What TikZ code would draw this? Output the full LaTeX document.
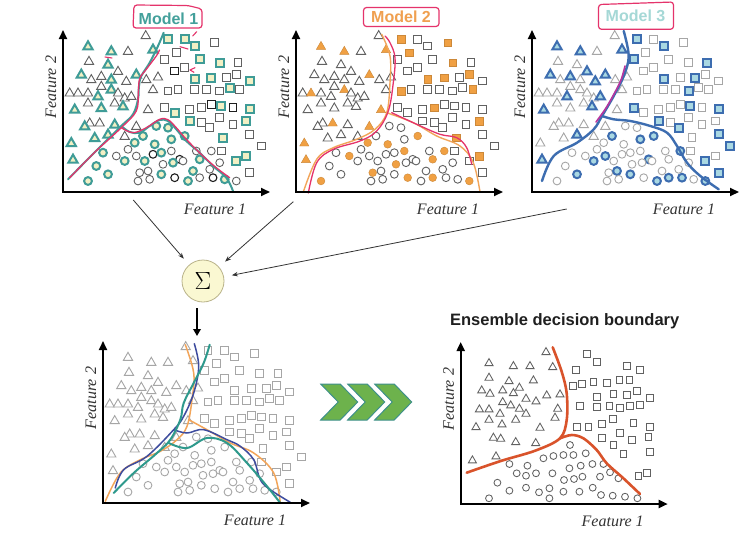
\documentclass[tikz,border=0pt]{standalone}
\usepackage{fontspec}
\setmainfont{Liberation Serif}
\newfontfamily\lsans{Liberation Sans}
\usetikzlibrary{arrows.meta}
\definecolor{tealA}{HTML}{3F9C97}
\definecolor{paleY}{HTML}{F2F0C4}
\definecolor{orngB}{HTML}{F0A043}
\definecolor{bluC}{HTML}{3D6DB0}
\definecolor{paleC}{HTML}{A9D8E2}
\definecolor{pinkH}{HTML}{E5336B}
\definecolor{magC}{HTML}{B8359E}
\definecolor{redE}{HTML}{D9532B}
\definecolor{navyL}{HTML}{3E4C9E}
\definecolor{tealL}{HTML}{2E998C}
\definecolor{orngL}{HTML}{F2A55A}
\definecolor{grnF}{HTML}{6DB24C}
\definecolor{grnE}{HTML}{3E908A}
\definecolor{sigF}{HTML}{FAF8D2}
\definecolor{sigE}{HTML}{B9B38A}
\definecolor{mthree}{HTML}{A5D8D6}
\definecolor{mtwo}{HTML}{F0A050}
\definecolor{mone}{HTML}{43A09B}

\def\TRIS{82.7/156.7/0/0/0, 25/146/1/1/1, 48.3/141/1/1/1, 65/141/0/0/0, 90/142.7/1/1/1,
26/131/0/0/0, 45/127.7/1/0/0, 55/121/0/0/1, 73.3/117.7/1/1/1, 18.3/117.7/1/0/1,
28.3/112.7/0/0/0, 38.3/116/0/0/1, 48.3/112.7/1/0/0, 63.3/111/0/0/1, 83.3/112.7/0/0/0,
95/115.3/0/0/0, 38.3/106/0/0/0, 48.3/102.7/1/1/0, 6.7/99.3/0/0/0, 15/99.3/0/1/0,
25/99.3/0/0/0, 35/96/1/0/1, 55/99.3/0/0/0, 61.7/94.3/0/0/0, 68.3/96/0/0/1,
90/102.7/0/0/0, 25/89.3/0/0/0, 38.3/84.3/1/0/0, 51.7/89.3/0/0/0, 60/86/1/0/1,
11.7/82.7/1/0/1, 85/82.7/0/1/0, 26.7/69.3/0/0/0, 36.7/69.3/0/1/0, 21.7/66/1/0/0,
51.7/67.7/1/0/0, 73.3/66/0/1/0, 45/57.7/1/0/1, 61.7/56/0/0/0, 31.7/54.3/1/0/0,
8.3/49.3/1/1/0, 10/32.7/1/1/1}
\def\SQS{105/152.7/1/1/1, 121.7/152.7/1/0/0, 131.7/146/1/0/1, 151.7/149.3/0/1/0,
113.3/139.3/0/1/0, 101.7/132.7/0/0/1, 136.7/132.7/1/0/0, 156.7/129.3/1/1/0,
175/129.3/0/0/1, 111.7/121/2/0/0, 121.7/124.3/0/0/0, 131.7/112.7/1/1/1,
148.3/114.3/1/1/0, 163.3/114.3/0/0/1, 173.3/117.7/0/1/0, 186.7/111/1/0/0,
115/102.7/0/0/0, 105/101/0/1/0, 131.7/102.7/0/0/0, 143.3/102.7/0/0/0,
156.7/101/0/0/1, 166.7/104.3/1/0/0, 176.7/102.7/0/1/0, 101.7/84.3/0/0/1,
111.7/79.3/1/0/0, 126.7/82.7/0/0/0, 138.3/84.3/0/1/0, 148.3/87.7/2/0/0,
158.3/86/1/0/1, 170/84.3/2/0/0, 186.7/82.7/1/0/1, 126.7/71/1/0/1,
138.3/69.3/0/0/0, 156.7/74.3/0/0/0, 170/67.7/0/0/0, 183.3/71/1/1/0,
146.7/64.3/0/0/1, 186.7/57.7/0/0/1, 160/54.3/1/1/0, 158.3/41/0/0/0,
198.3/46/0/0/1, 183.3/36/1/1/0, 173.3/31/1/0/1, 186.7/19.3/0/0/1}
\def\CIRS{93.3/66/1/0/0, 105/64.3/1/0/0, 80/56/1/0/1, 71.7/49.3/1/1/0, 91.7/47.7/1/1/0,
108.3/52.7/1/0/1, 121.7/56/1/1/1, 65/42.7/0/0/0, 40/39.3/1/0/0, 53.3/36/0/1/0,
61.7/31/1/0/1, 73.3/36/0/0/1, 81.7/31/1/0/0, 90/37.7/2/0/0, 98.3/39.3/1/0/0,
108.3/41/0/1/0, 116.7/32.7/2/0/1, 133.3/41/0/0/0, 148.3/41/0/1/1, 33.3/26/1/0/0,
25/11/1/1/0, 45/17.7/1/0/1, 76.7/19.3/0/1/0, 85/21/0/0/1, 100/27.7/0/1/0,
110/29.3/1/0/0, 120/31/0/0/0, 136.7/32.7/1/1/0, 146.7/22.7/0/0/0, 156.7/29.3/0/0/0,
75/11/0/0/0, 86.7/12.7/0/0/0, 98.3/17.7/1/0/1, 111.7/14.3/2/1/0, 125/11/1/0/1,
130/21/1/0/0, 136.7/14.3/0/1/1, 150/14.3/2/0/1, 161.7/12.7/1/0/0, 173.3/11/0/1/1}
\def\BRT{85.3/152.3, 28.3/141.3, 52.7/138.3, 69.3/138.3, 92/137.3, 28.3/126.7, 48.3/123.3,
72.7/124, 21/114, 29.3/110.7, 42/114, 52.7/111.3, 58.7/116.7, 65.3/105.7, 75.3/103, 86/109,
99.3/110, 18.7/95, 28.3/95, 42/102.3, 50/99, 58.7/95.7, 65.3/90.7, 39.3/90.7, 97/95.7,
94.3/86.7, 28.3/84.7, 41.3/80, 55/84.7, 15.3/77.3, 79.3/76.7, 32.7/66.7, 40/65.7, 55/62.3,
75/61.3, 11.7/44, 35.3/48}
\def\BRS{126/150, 136/142.3, 115.3/134, 166/138.3, 179.3/134, 112/118, 121/120, 132.7/122.3,
146/121.3, 158.7/124, 168.7/124, 136/107.3, 152.7/109.7, 166/109, 176/113.3, 189.3/105.7,
119.3/98, 136/97.3, 148.7/98, 159.3/95.7, 169.3/98, 179.3/99, 152/85, 116/76.7, 127.7/77.3,
141/79.7, 172.7/81.3, 189.3/77.3, 159.3/70.7, 141/65.7, 152.7/59, 171/64, 187.7/67.3,
162.7/50, 189.3/52.3, 177.7/28, 186/30.7}
\def\BRC{109.3/59, 48.7/40, 66.7/38.3, 82.7/45.7, 92.7/48, 102.7/49, 112.7/49, 125/50.7,
56/30.7, 65.3/28.3, 75.3/30.7, 91.7/30.7, 103.3/24, 113.3/25, 108.7/35.7, 120/38.3,
131.7/40, 142.7/40, 121.7/27.3, 139.3/27.3, 149.3/31.7, 157.7/25.7, 36.7/21.3, 48.7/13.3,
65.3/16.3, 78.3/11.7, 88.7/15.7, 88.7/5.7, 102.7/12.3, 118.7/12.3, 132/16.3, 140.3/9,
152/8.3, 164.3/7.3, 176.7/5.7, 28.3/5.7}

\newcommand\setmyfl[1]{\ifcase#1 \def\myfl{0}\or\let\myfl\fa\or\let\myfl\fb\or\let\myfl\fc\fi}
\newcommand\mkpt[3]{\ifnum\myfl=1 \pic[#3] at (\px,\py) {#1};\else\ifnum\myfl=2 \pic[dk] at (\px,\py) {#1};\else\pic[#2] at (\px,\py) {#1};\fi\fi}
\newcommand\plotpts[3]{%
 \foreach \px/\py/\fa/\fb/\fc in \TRIS {\setmyfl{#1}\mkpt{mtri}{#2}{#3}}%
 \foreach \px/\py/\fa/\fb/\fc in \SQS {\setmyfl{#1}\mkpt{msq}{#2}{#3}}%
 \foreach \px/\py/\fa/\fb/\fc in \CIRS {\setmyfl{#1}\mkpt{mcirc}{#2}{#3}}%
}
\newcommand\axeslab[1]{%
 \draw[axis] (0,162) -- (0,0) -- (207,0);
 \node[flab] (#1x) at (152,-17) {Feature 1};
 \node[flab, rotate=90] (#1y) at (-12,105) {Feature 2};
}

\begin{document}
\begin{tikzpicture}[x=1pt, y=-1pt,
 mtri/.pic={\path[pic actions] (-4.6,-3.3) -- (4.6,-3.3) -- (0,4.7) -- cycle;},
 msq/.pic={\path[pic actions] (-3.9,-3.9) rectangle (3.9,3.9);},
 mcirc/.pic={\path[pic actions] (0,0) circle[radius=3.9];},
 nrm/.style={draw=black!62, line width=0.9pt, fill=white},
 lgt/.style={draw=black!35, line width=0.9pt, fill=white},
 dk/.style={draw=black!88, line width=1.1pt, fill=white},
 hA/.style={draw=tealA, line width=2pt, fill=paleY},
 hB/.style={draw=orngB!85!black, line width=0.4pt, fill=orngB},
 hC/.style={draw=bluC, line width=2pt, fill=paleC},
 brp/.style={draw=black!62, line width=0.85pt, fill=white, scale=0.88},
 axis/.style={line width=2pt, {Triangle[length=9pt,width=8pt]}-{Triangle[length=9pt,width=8pt]}},
 flab/.style={font=\itshape\fontsize{16}{16}\selectfont, text=black!80},
 mlab/.style={font=\lsans\bfseries\fontsize{16}{16}\selectfont},
 pinkbox/.style={draw=pinkH, line width=1.2pt, rounded corners=3pt},
 bnd/.style={line width=2pt, line cap=round, line join=round},
 conn/.style={draw=black!80, line width=0.8pt, -{Stealth[length=6pt,width=4.5pt]}, shorten >=8pt},
 downarr/.style={line width=2.2pt, -{Triangle[length=7pt,width=7.5pt]}, shorten <=6pt},
 chev/.style={fill=grnF, draw=grnE, line width=1pt, line join=miter}
]
\fill[white] (0,0) rectangle (752,538);
\useasboundingbox (0,0) rectangle (752,538);

% ---------- Model 1 ----------
\begin{scope}[shift={(63,192)}, y=1pt]
 \plotpts{1}{nrm}{hA}
 \draw[bnd, tealA] plot[smooth, tension=0.6] coordinates {(5,12.7) (30,38) (58.3,66) (70,77.7) (75,92.7) (76,106) (78.3,116) (86.7,129.3) (95,146) (100.7,159.3)};
 \draw[bnd, tealA] plot[smooth, tension=0.6] coordinates {(58.3,66) (66.7,60) (76.7,59.3) (86.7,66) (96.7,72) (105,71) (113.3,62.7) (123.3,51) (136.7,39.3) (150,26) (163.3,14.3) (170,1)};
 \draw[bnd, pinkH, line width=1.3pt] plot[smooth, tension=0.6] coordinates {(6.7,14.3) (32,40) (58.3,64.3) (73.3,81) (75.3,99.3) (76.7,113.3) (83.3,122.7) (93.3,136) (96.5,142)};
 \draw[bnd, pinkH, line width=1.3pt] plot[smooth, tension=0.6] coordinates {(58.3,64.3) (70,59.3) (83.3,64.3) (96.7,72.7) (105,72.3) (113.3,64.3) (123.3,52.7) (140,36) (153.3,24.3) (166.7,14.3)};
 \axeslab{pa}
\end{scope}
\draw[pinkH, line width=1.1pt, line cap=round] (105,57) -- (112,58);
\draw[pinkH, line width=1.1pt, line cap=round] (180,46.7) -- (188,49);
\draw[pinkH, line width=1.1pt, line cap=round] (196.7,31.7) .. controls (195,34) .. (192.7,36);
\draw[pinkH, line width=1.1pt, line cap=round, line join=round] (195,67.7) -- (190,70) -- (194,72.3);
\draw[pinkbox] (134,5) -- (133,28) -- (202,28) -- (202,9) -- (188,5.5) -- cycle;
\node[mlab, text=mone] (m1) at (168.5,18.5) {Model 1};

% ---------- Model 2 ----------
\begin{scope}[shift={(296,192)}, y=1pt]
 \plotpts{2}{nrm}{hB}
 \draw[bnd, orngL, line width=1.4pt] plot[smooth, tension=0.6] coordinates {(7.3,0) (20.7,32.7) (37.3,44.3) (60.7,52.7) (79,62.7) (90.7,79.3) (94,109.3) (94,136) (85.7,157.7)};
 \draw[bnd, orngL, line width=1.4pt] plot[smooth, tension=0.6] coordinates {(90.7,79.3) (117.3,69.3) (140.7,56) (164,46) (177.3,29.3) (184,0)};
 \draw[bnd, pinkH, line width=1.3pt] plot[smooth, tension=0.6] coordinates {(12.3,-1) (20.7,29.3) (37.3,42.7) (64,51) (80.7,61) (92.3,81) (97.3,109.3) (99,134.3) (94,149.3) (89,156)};
 \draw[bnd, pinkH, line width=1.3pt] plot[smooth, tension=0.6] coordinates {(95.7,79.3) (120.7,67.7) (144,57.7) (160.7,54.3) (170.7,44.3) (175.7,27.7)};
 \axeslab{pb}
\end{scope}
\draw[pinkbox] (363.5,7.5) -- (363.5,26.5) -- (439,26.5) -- (439,7.5) -- cycle;
\node[mlab, text=mtwo] (m2) at (401,16.5) {Model 2};

% ---------- Model 3 ----------
\begin{scope}[shift={(532,192)}, y=1pt]
 \plotpts{3}{lgt}{hC}
 \draw[bnd, bluC, line width=2.4pt] plot[smooth, tension=0.6] coordinates {(10,11) (21.7,36) (45,49.3) (61.7,62.7) (70,76) (81.7,96) (91.7,116) (96.7,136) (91.7,161)};
 \draw[bnd, bluC, line width=2.4pt] plot[smooth, tension=0.6] coordinates {(70,76) (81.7,72.7) (98.3,71) (118.3,66) (135,59.3) (145,46) (155,29.3) (168.3,16) (186.7,2.7)};
 \draw[bnd, magC, line width=1.6pt] plot[smooth, tension=0.6] coordinates {(64,70) (74,84) (82,98) (89,112) (93,126)};
 \axeslab{pc}
\end{scope}
\draw[pinkbox] (598.5,4.5) -- (598.5,29.3) -- (673.5,29.3) -- (673.5,2) -- cycle;
\node[mlab, text=mthree] (m3) at (635.5,15.5) {Model 3};

% ---------- Sigma ----------
\node[circle, draw=sigE, fill=sigF, line width=0.8pt, minimum size=42pt, inner sep=0pt, font=\fontsize{24}{24}\selectfont] (sig) at (203,281) {$\Sigma$};
\coordinate (s1) at (133.3,200);
\coordinate (s2) at (293.3,201.7);
\coordinate (s3) at (566.7,209);
\draw[conn] (s1) -- (sig);
\draw[conn] (s2) -- (sig);
\draw[conn] (s3) -- (sig);
\coordinate (dn) at (197,336);
\draw[downarr] (sig.south -| dn) -- (dn);

% ---------- Combined ----------
\begin{scope}[shift={(103,503)}, y=1pt]
 \plotpts{0}{lgt}{lgt}
 \draw[bnd, orngL, line width=1.5pt] plot[smooth, tension=0.6] coordinates {(2.3,1.7) (17.3,30) (37.3,43.3) (57.3,51.7) (74,63.3) (84,76.7) (89,103.3) (90.7,130) (82.3,158.3)};
 \draw[bnd, orngL, line width=1.5pt] plot[smooth, tension=0.6] coordinates {(85.7,83.3) (104,73.3) (127.3,60) (150.7,50) (170.7,30) (177.3,0)};
 \draw[bnd, navyL, line width=1.5pt] plot[smooth, tension=0.6] coordinates {(12.3,15) (20.7,33.3) (44,46.7) (70.7,73.3) (80.7,86.7) (90.7,110) (95.7,136.7) (91.3,159.3)};
 \draw[bnd, navyL, line width=1.5pt] plot[smooth, tension=0.6] coordinates {(70.7,73.3) (84,70) (100.7,73.3) (124,63.3) (137.3,56.7) (150.7,43.3) (157.3,23.3) (167.3,13.3) (187.3,0.7)};
 \draw[bnd, tealL, line width=2pt] plot[smooth, tension=0.6] coordinates {(10.7,10) (30.7,30) (54,50) (67.3,63.3) (77.3,83.3) (80.7,100) (90.7,120) (100.7,140) (106.7,158.3)};
 \draw[bnd, tealL, line width=2pt] plot[smooth, tension=0.6] coordinates {(65.7,60) (84,55) (104,65) (124,60) (144,40) (164,16.7) (177.3,0)};
 \axeslab{pd}
\end{scope}

% ---------- Chevrons ----------
\foreach \o in {0,27,54} {
 \draw[chev] (320.7+\o,384) -- (340.2+\o,384) -- (357.7+\o,402) -- (340.2+\o,420) -- (320.7+\o,420) -- (338.2+\o,402) -- cycle;
}

% ---------- Ensemble ----------
\node[font=\lsans\bfseries\fontsize{16.5}{16.5}\selectfont, text=black!88] (ens) at (564.7,321.5) {Ensemble decision boundary};
\begin{scope}[shift={(460.7,504)}, y=1pt]
 \foreach \px/\py in \BRT {\pic[brp] at (\px,\py) {mtri};}
 \foreach \px/\py in \BRS {\pic[brp] at (\px,\py) {msq};}
 \foreach \px/\py in \BRC {\pic[brp] at (\px,\py) {mcirc};}
 \draw[bnd, redE, line width=2.6pt] plot[smooth, tension=0.55] coordinates {(6,31.3) (40,43) (75,53.5) (99.3,65.7) (106,84) (106,110.7) (101,132.3) (92,156.7)};
 \draw[bnd, redE, line width=2.6pt] plot[smooth, tension=0.55] coordinates {(99.3,65.7) (111,69) (122.7,65.7) (136,54) (146,40.7) (162.7,25.7) (179.3,10)};
 \axeslab{pe}
\end{scope}
\end{tikzpicture}
\end{document}
